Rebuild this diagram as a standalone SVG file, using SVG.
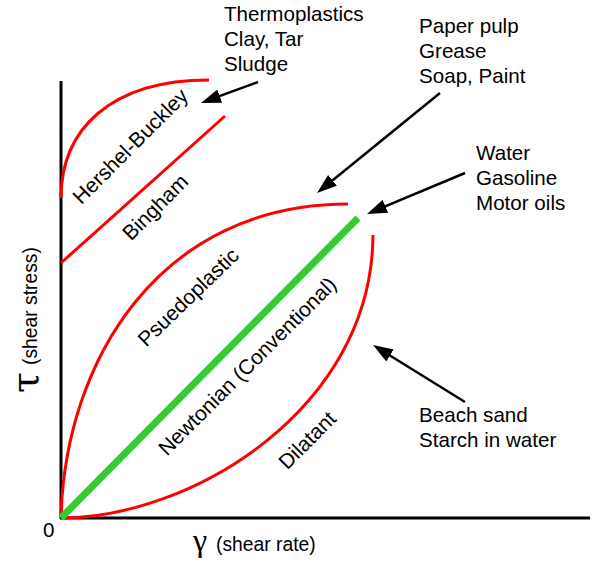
<svg xmlns="http://www.w3.org/2000/svg" width="600" height="564" viewBox="0 0 600 564">
<style>
.t{font-family:"Liberation Sans",Arial,sans-serif;font-size:20.6px;fill:#000}
.l{font-family:"Liberation Sans",Arial,sans-serif;font-size:21px;fill:#000}
.s{font-family:"Liberation Sans",Arial,sans-serif;font-size:19.3px;fill:#000}
.g{font-family:"DejaVu Serif","Liberation Serif",serif;fill:#000}
.gs{font-family:"Liberation Serif","Times New Roman",serif;fill:#000}
.c{fill:none;stroke:#ff0000;stroke-width:3}
.ax{stroke:#000;stroke-width:3;fill:none}
.ar{stroke:#000;stroke-width:2.5;fill:none;marker-end:url(#ah)}
.r{text-anchor:middle;dominant-baseline:central}
</style>
<defs>
<marker id="ah" markerUnits="userSpaceOnUse" markerWidth="22" markerHeight="16" refX="12" refY="7" orient="auto" viewBox="0 0 22 16">
<path d="M0,0 L20,7 L0,14 Z" fill="#000"/>
</marker>
</defs>
<g id="axes">
<line class="ax" x1="61" y1="81" x2="61" y2="519"/>
<line class="ax" x1="60" y1="518" x2="590" y2="518"/>
<text class="t" x="43" y="537">0</text>
<text class="gs" x="193" y="551" font-size="32">γ</text>
<text class="s" x="216" y="551">(shear rate)</text>
<text class="g" font-size="38" transform="translate(38,393) rotate(-90)">τ</text>
<text class="s" transform="translate(37,365) rotate(-90)">(shear stress)</text>
</g>
<g id="curves">
<path id="hershel" class="c" d="M61,198 C61,130 110,80 209,80"/>
<path id="bingham" class="c" d="M61,263 L225,116"/>
<path id="pseudo" class="c" d="M61,518 C65,360 160,204 348,204"/>
<path id="dilatant" class="c" d="M61,518 C190,518 372,410 373,235"/>
<line id="newtonian" x1="61" y1="518" x2="358" y2="218" stroke="#33cc33" stroke-width="7"/>
</g>
<g id="curve-labels">
<text class="l r" transform="translate(130,146) rotate(-45)">Hershel-Buckley</text>
<text class="l r" transform="translate(155,207) rotate(-45)">Bingham</text>
<text class="l r" transform="translate(188,297) rotate(-44)">Psuedoplastic</text>
<text class="l r" transform="translate(247,366) rotate(-45)">Newtonian (Conventional)</text>
<text class="l r" transform="translate(307,440) rotate(-45)">Dilatant</text>
</g>
<g id="connectors">
<line class="ar" x1="258" y1="82" x2="208.5" y2="100.2"/>
<line class="ar" x1="440" y1="93" x2="323.2" y2="188"/>
<line class="ar" x1="465" y1="173" x2="374.4" y2="210.9"/>
<line class="ar" x1="465" y1="402" x2="379.8" y2="349.2"/>
</g>
<g id="thermo">
<text class="t" x="224" y="21">Thermoplastics</text>
<text class="t" x="224" y="46">Clay, Tar</text>
<text class="t" x="224" y="71">Sludge</text>
</g>
<g id="paper">
<text class="t" x="419" y="33">Paper pulp</text>
<text class="t" x="419" y="58">Grease</text>
<text class="t" x="419" y="83">Soap, Paint</text>
</g>
<g id="water">
<text class="t" x="476" y="160">Water</text>
<text class="t" x="476" y="185">Gasoline</text>
<text class="t" x="476" y="210">Motor oils</text>
</g>
<g id="beach">
<text class="t" x="419" y="422">Beach sand</text>
<text class="t" x="419" y="447">Starch in water</text>
</g>
</svg>
